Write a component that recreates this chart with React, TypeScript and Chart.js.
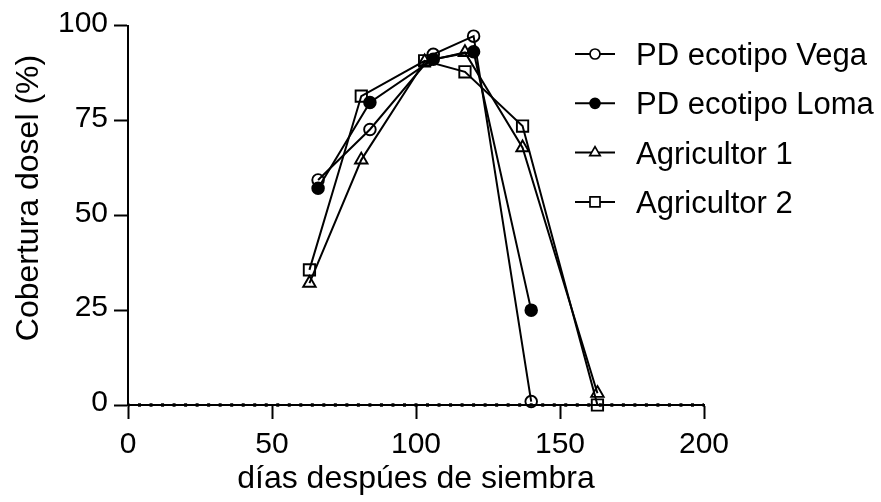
import React, { useEffect, useRef } from 'react';
import { Chart, registerables } from 'chart.js';

Chart.register(...registerables);

const FONT = '"Liberation Sans", Arial, Helvetica, sans-serif';

// ---- data ----
const pdX = [66, 84, 106, 120, 140];
const vegaY = [59.3, 72.6, 92.4, 97.2, 0.9];
const lomaY = [57.1, 79.7, 91.1, 93.1, 25.0];
const agrX = [63, 81, 103, 117, 137, 163];
const agr1Y = [32.1, 64.6, 90.5, 92.9, 67.8, 3.1];
const agr2Y = [35.6, 81.4, 90.7, 87.8, 73.5, 0];
const seriesNames = ['PD ecotipo Vega', 'PD ecotipo Loma', 'Agricultor 1', 'Agricultor 2'];
const zeroLineX = [0, 200];
const zeroLineY = [0, 0];
const xTicks = [0, 50, 100, 150, 200];
const yTicks = [0, 25, 50, 75, 100];
const xTitle = 'días despúes de siembra';
const yTitle = 'Cobertura dosel (%)';

const toPoints = (xs: number[], ys: number[]) => xs.map((x, i) => ({ x, y: ys[i] }));

const TRANSPARENT = 'rgba(0,0,0,0)';

function drawMarker(ctx: CanvasRenderingContext2D, style: string, x: number, y: number, filled: boolean) {
  ctx.beginPath();
  if (style === 'circle') {
    ctx.arc(x, y, 5, 0, Math.PI * 2);
  } else if (style === 'triangle') {
    const r = 6;
    ctx.moveTo(x, y - r);
    ctx.lineTo(x + r * Math.sin((2 * Math.PI) / 3), y - r * Math.cos((2 * Math.PI) / 3));
    ctx.lineTo(x + r * Math.sin((4 * Math.PI) / 3), y - r * Math.cos((4 * Math.PI) / 3));
    ctx.closePath();
  } else {
    const s = 5;
    ctx.rect(x - s, y - s, 2 * s, 2 * s);
  }
  ctx.fillStyle = filled ? '#000' : '#fff';
  ctx.fill();
  ctx.lineWidth = 1.7;
  ctx.strokeStyle = '#000';
  ctx.stroke();
}

const legendPlugin = {
  id: 'customLegend',
  afterDraw(chart: any) {
    const ctx: CanvasRenderingContext2D = chart.ctx;
    ctx.save();
    const fontSize = 31;
    ctx.font = `${fontSize}px ${FONT}`;
    chart.data.datasets.forEach((ds: any, i: number) => {
      if (i >= seriesNames.length) return;
      const cy = 54 + 49.3 * i;
      ctx.beginPath();
      ctx.moveTo(575, cy);
      ctx.lineTo(615, cy);
      ctx.lineWidth = 2;
      ctx.strokeStyle = '#000';
      ctx.stroke();
      drawMarker(ctx, ds.pointStyle, 595, cy, ds.pointBackgroundColor === '#000');
      ctx.fillStyle = '#000';
      ctx.textAlign = 'left';
      ctx.textBaseline = 'alphabetic';
      ctx.fillText(ds.label, 636, cy + 0.358 * fontSize);
    });
    ctx.restore();
  },
};

const yTitlePlugin = {
  id: 'yTitle',
  afterDraw(chart: any) {
    const ctx: CanvasRenderingContext2D = chart.ctx;
    ctx.save();
    ctx.font = `32px ${FONT}`;
    ctx.fillStyle = '#000';
    ctx.translate(37.5, 198);
    ctx.rotate(-Math.PI / 2);
    ctx.textAlign = 'center';
    ctx.textBaseline = 'alphabetic';
    ctx.fillText(yTitle, 0, 0);
    ctx.restore();
  },
};

export default function App() {
  const ref = useRef<HTMLCanvasElement | null>(null);

  useEffect(() => {
    if (!ref.current) return;
    const lineBase = {
      showLine: true,
      borderColor: '#000',
      borderWidth: 2,
      pointBorderColor: '#000',
      pointBorderWidth: 1.9,
      tension: 0,
      clip: false as any,
    };
    const chart = new Chart(ref.current, {
      type: 'scatter',
      data: {
        datasets: [
          {
            ...lineBase,
            label: seriesNames[0],
            data: toPoints(pdX, vegaY),
            pointStyle: 'circle',
            pointRadius: 5.8,
            pointBackgroundColor: TRANSPARENT,
          },
          {
            ...lineBase,
            label: seriesNames[1],
            data: toPoints(pdX, lomaY),
            pointStyle: 'circle',
            pointRadius: 5.8,
            pointBackgroundColor: '#000',
          },
          {
            ...lineBase,
            label: seriesNames[2],
            data: toPoints(agrX, agr1Y),
            pointStyle: 'triangle',
            pointRadius: 7.2,
            pointBackgroundColor: TRANSPARENT,
          },
          {
            ...lineBase,
            label: seriesNames[3],
            data: toPoints(agrX, agr2Y),
            pointStyle: 'rect',
            pointRadius: 8,
            pointBackgroundColor: TRANSPARENT,
          },
          {
            label: '',
            data: toPoints(zeroLineX, zeroLineY),
            showLine: true,
            borderColor: '#000',
            borderWidth: 3.5,
            borderDash: [3, 8.52],
            borderDashOffset: 1.5,
            borderCapStyle: 'butt',
            pointRadius: 0,
            clip: false as any,
          } as any,
        ],
      },
      options: {
        animation: false,
        responsive: false,
        devicePixelRatio: 1,
        layout: { padding: { left: 0, top: 25.5, right: 177, bottom: 0 } },
        plugins: {
          legend: { display: false },
          tooltip: { enabled: false },
        },
        scales: {
          x: {
            type: 'linear',
            min: 0,
            max: 200,
            afterBuildTicks: (scale: any) => {
              scale.ticks = xTicks.map((v) => ({ value: v }));
            },
            afterFit: (scale: any) => {
              scale.height = 97;
            },
            grid: {
              display: true,
              drawOnChartArea: false,
              drawTicks: true,
              tickLength: 14,
              tickWidth: 2,
              tickColor: '#000',
            },
            border: { display: true, color: '#000', width: 2 },
            ticks: {
              color: '#000',
              padding: 8,
              maxRotation: 0,
              autoSkip: false,
              font: { family: FONT, size: 30 },
            },
            title: {
              display: true,
              text: xTitle,
              color: '#000',
              font: { family: FONT, size: 32 },
              padding: { top: 0, bottom: 4 },
            },
          },
          y: {
            type: 'linear',
            min: 0,
            max: 100,
            afterBuildTicks: (scale: any) => {
              scale.ticks = yTicks.map((v) => ({ value: v }));
            },
            afterFit: (scale: any) => {
              scale.width = 128;
            },
            grid: {
              display: true,
              drawOnChartArea: false,
              drawTicks: true,
              tickLength: 14,
              tickWidth: 2,
              tickColor: '#000',
            },
            border: { display: true, color: '#000', width: 2 },
            ticks: {
              color: '#000',
              padding: 6,
              labelOffset: -2,
              autoSkip: false,
              font: { family: FONT, size: 30 },
            },
          },
        },
      } as any,
      plugins: [legendPlugin, yTitlePlugin],
    });
    return () => chart.destroy();
  }, []);

  return (
    <div style={{ position: 'fixed', left: 0, top: 0, width: 881, height: 502, background: '#fff' }}>
      <canvas ref={ref} width={881} height={502} style={{ display: 'block', width: 881, height: 502 }} />
    </div>
  );
}
